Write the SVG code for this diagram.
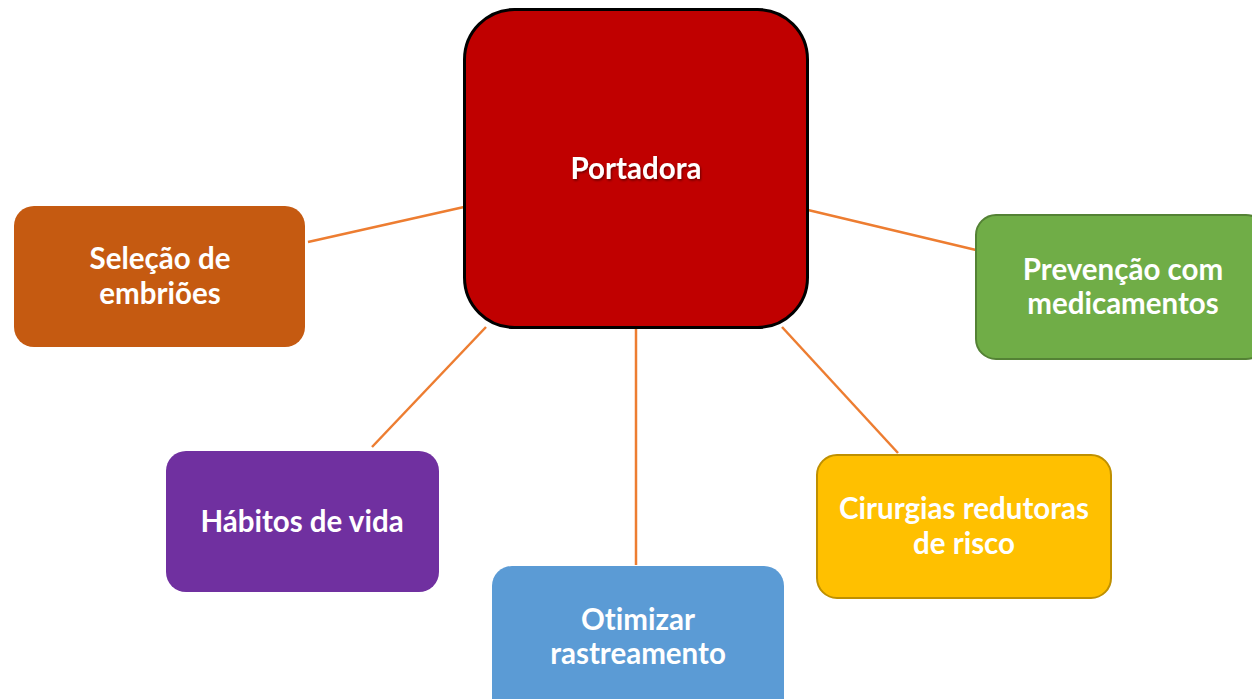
<svg xmlns="http://www.w3.org/2000/svg" width="1252" height="699" viewBox="0 0 1252 699">
  <defs>
    <filter id="shadow" x="-10%" y="-30%" width="120%" height="160%">
      <feDropShadow dx="1" dy="1.5" stdDeviation="1" flood-color="#000" flood-opacity="0.45"/>
    </filter>
  </defs>
  <style>
    .lbl { font-family: Lato, "Liberation Sans", sans-serif; font-weight: bold; font-size: 29.5px; fill: #FFFFFF; text-anchor: middle; font-variant-ligatures: none; font-feature-settings: "liga" 0; }
    .conn { stroke: #ED7D31; stroke-width: 2.5; fill: none; }
  </style>
  <rect width="1252" height="699" fill="#FFFFFF"/>
  <g id="connectors">
    <line class="conn" x1="308" y1="242" x2="464" y2="207"/>
    <line class="conn" x1="808" y1="210" x2="976" y2="250"/>
    <line class="conn" x1="372" y1="447" x2="486" y2="327"/>
    <line class="conn" x1="636" y1="327" x2="636" y2="565"/>
    <line class="conn" x1="898" y1="453" x2="782" y2="327"/>
  </g>
  <g id="portadora">
    <rect x="464.5" y="9.5" width="343" height="318" rx="50" ry="50" fill="#C00000" stroke="#000000" stroke-width="3"/>
    <text class="lbl" x="636" y="179" filter="url(#shadow)">Portadora</text>
  </g>
  <g id="selecao">
    <rect x="14" y="206" width="291" height="141" rx="20" ry="20" fill="#C55A11"/>
    <text class="lbl" x="160" y="269">Seleção de</text>
    <text class="lbl" x="160" y="304">embriões</text>
  </g>
  <g id="prevencao">
    <rect x="976" y="215" width="290" height="144" rx="20" ry="20" fill="#70AD47" stroke="#548235" stroke-width="2"/>
    <text class="lbl" x="1123" y="280">Prevenção com</text>
    <text class="lbl" x="1123" y="314">medicamentos</text>
  </g>
  <g id="habitos">
    <rect x="166" y="451" width="273" height="141" rx="20" ry="20" fill="#7030A0"/>
    <text class="lbl" x="302" y="532">Hábitos de vida</text>
  </g>
  <g id="otimizar">
    <rect x="492" y="566" width="292" height="160" rx="20" ry="20" fill="#5B9BD5"/>
    <text class="lbl" x="638" y="630">Otimizar</text>
    <text class="lbl" x="638" y="664">rastreamento</text>
  </g>
  <g id="cirurgias">
    <rect x="817" y="455" width="294" height="143" rx="20" ry="20" fill="#FFC000" stroke="#BF9000" stroke-width="2"/>
    <text class="lbl" x="964" y="519">Cirurgias redutoras</text>
    <text class="lbl" x="964" y="554">de risco</text>
  </g>
</svg>
